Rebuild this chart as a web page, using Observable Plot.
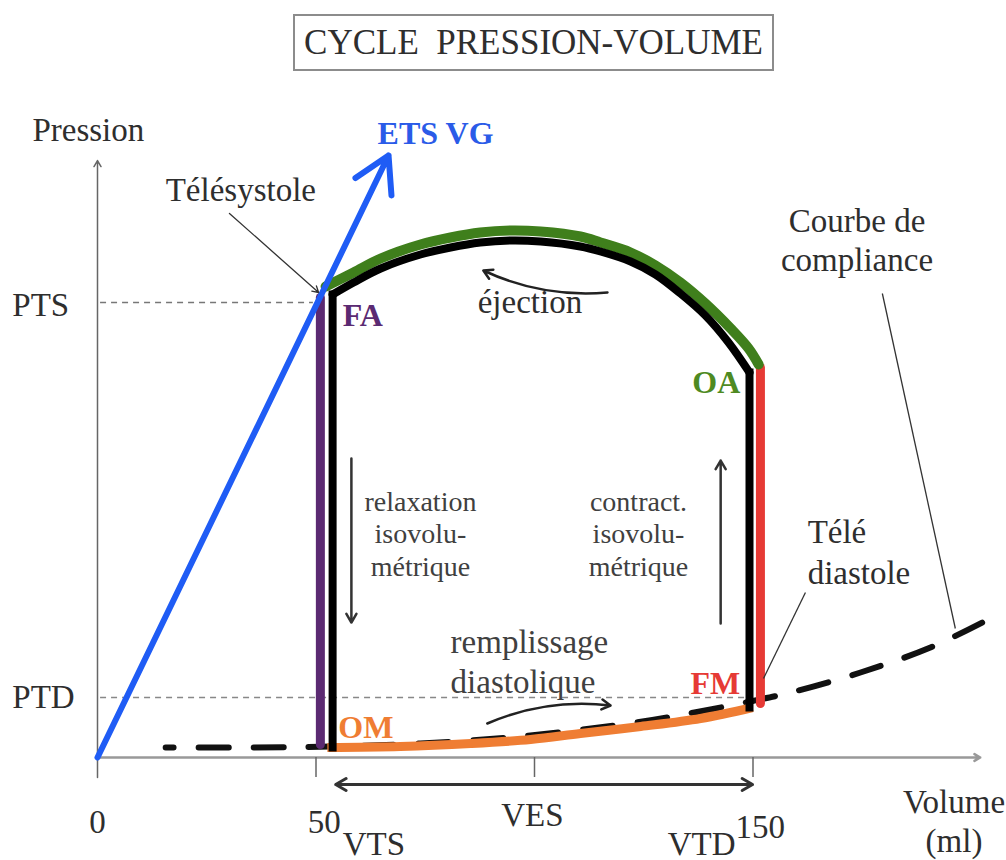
<!DOCTYPE html>
<html><head><meta charset="utf-8">
<script src="https://cdn.jsdelivr.net/npm/d3@7"></script>
<script src="https://cdn.jsdelivr.net/npm/@observablehq/plot@0.6"></script>
<style>
body{margin:0;background:#fff;}
#wrap{position:relative;width:1006px;height:860px;background:#fff;}
#title{position:absolute;left:293px;top:14px;width:481px;height:57px;box-sizing:border-box;border:2px solid #8c8c8c;font-family:"Liberation Serif","Times New Roman","DejaVu Serif","Noto Serif",serif;font-size:35px;color:#2e2e2e;text-align:center;line-height:53px;white-space:pre;}
#chart{position:absolute;left:0;top:80px;}
</style></head><body>
<div id="wrap"><div id="title"></div><div id="chart"></div></div>
<script>
// ---- data (volume in ml, pressure in arbitrary units) ----
const titleText = "CYCLE  PRESSION-VOLUME";
const xTicks = [50, 100, 150];
const PTS = 91, PTD = 12;

const etsLine = [{v1: 0, p1: 0, v2: 66.6, p2: 120.4}];

const blackLeft = [{v: 53.8, p: 2.0}, {v: 53.8, p: 92.6}];
const blackRight = [{v: 149.2, p: 77.0}, {v: 149.2, p: 10.0}];
const ejectionBlack = [
  {v: 53.8, p: 92.6}, {v: 58.6, p: 95.0}, {v: 64.8, p: 97.8}, {v: 73.9, p: 100.6},
  {v: 80.8, p: 102.0}, {v: 87.6, p: 103.0}, {v: 94.5, p: 103.4}, {v: 101.4, p: 103.2},
  {v: 110.5, p: 102.2}, {v: 115.1, p: 101.2}, {v: 122.0, p: 99.2}, {v: 127.7, p: 96.6},
  {v: 133.4, p: 92.8}, {v: 139.1, p: 88.4}, {v: 144.4, p: 83.0}, {v: 149.2, p: 77.0}
];
const ejectionGreen = [
  {v: 52.2, p: 94.2}, {v: 58.6, p: 97.0}, {v: 64.8, p: 99.8}, {v: 73.9, p: 102.6},
  {v: 80.8, p: 104.0}, {v: 87.6, p: 105.0}, {v: 94.5, p: 105.4}, {v: 101.4, p: 105.2},
  {v: 110.5, p: 104.2}, {v: 115.1, p: 103.0}, {v: 122.0, p: 101.0}, {v: 127.7, p: 98.4},
  {v: 133.4, p: 95.0}, {v: 139.1, p: 90.8}, {v: 144.9, p: 85.8}, {v: 149.0, p: 81.8},
  {v: 151.3, p: 78.6}
];
const purpleFA = [{v: 51.0, p: 2.6}, {v: 51.0, p: 92.0}];
const redFM = [{v: 151.7, p: 10.8}, {v: 151.7, p: 78.0}];
const fillingOrange = [
  {v: 52.6, p: 2.0}, {v: 69.3, p: 2.2}, {v: 85.4, p: 2.8}, {v: 99.1, p: 3.6},
  {v: 110.5, p: 4.8}, {v: 124.3, p: 6.2}, {v: 138.0, p: 7.8}, {v: 149.9, p: 10.0}
];
const compliance = [
  {v: 15.6, p: 2.0}, {v: 35.0, p: 2.0}, {v: 53.3, p: 2.2}, {v: 73.9, p: 2.8},
  {v: 96.8, p: 4.2}, {v: 123.3, p: 7.0}, {v: 136.6, p: 9.0}, {v: 149.9, p: 11.3},
  {v: 158.6, p: 13.0}, {v: 174.6, p: 17.0}, {v: 190.6, p: 22.0}, {v: 202.5, p: 27.0}
];

const yAxisArrow = [{v1: 0, p1: -4, v2: 0, p2: 119.4}];
const xAxisArrow = [{v1: 0, p1: 0, v2: 202, p2: 0}];
const smallArrows = [
  {v1: 58.1, p1: 59.8, v2: 58.1, p2: 27.0},
  {v1: 142.6, p1: 26.8, v2: 142.6, p2: 59.4}
];
const curvedArrows = [
  {v1: 116.7, p1: 93.0, v2: 88.3, p2: 97.4},
  {v1: 89.2, p1: 6.8, v2: 117.4, p2: 10.4}
];
const vesArrows = [
  {v1: 99.5, p1: -5.4, v2: 54.5, p2: -5.4},
  {v1: 99.5, p1: -5.4, v2: 149.9, p2: -5.4}
];
const teleSystoleLeader = [{v1: 30.2, p1: 108.8, v2: 50.6, p2: 93.0}];
const leaders = [
  {v1: 179.6, p1: 92.8, v2: 196.3, p2: 25.8},
  {v1: 162.0, p1: 33.0, v2: 152.4, p2: 15.8}
];

const labelsStart = [
  {v: -14.9, p: 123.4, t: "Pression"},
  {v: 15.6, p: 111.4, t: "Télésystole"},
  {v: -19.5, p: 88.4, t: "PTS"},
  {v: -19.5, p: 10.0, t: "PTD"},
  {v: 87.0, p: 89.0, t: "éjection"},
  {v: 56.1, p: -19.4, t: "VTS"},
  {v: 146.0, p: -16.0, t: "150"}
];
const labelsMiddle = [
  {v: 173.8, p: 97.4, t: "Courbe de\ncompliance"},
  {v: 0, p: -15.0, t: "0"},
  {v: 51.9, p: -15.0, t: "50"},
  {v: 99.5, p: -13.6, t: "VES"},
  {v: 196.0, p: -18.8, t: "Volume\n(ml)"}
];
const labelsEnd = [{v: 146.0, p: -19.4, t: "VTD"}];
const teleDiastole = [{v: 162.5, p: 34.8, t: "Télé\ndiastole"}];
const remplissage = [{v: 80.8, p: 13.0, t: "remplissage\ndiastolique"}];
const isoLabels = [
  {v: 73.9, p: 36.4, t: "relaxation\nisovolu-\nmétrique"},
  {v: 123.8, p: 36.4, t: "contract.\nisovolu-\nmétrique"}
];
const pointLabelsStart = [
  {v: 56.1, p: 86.4, t: "FA", c: "#5b2a72"},
  {v: 55.1, p: 4.0, t: "OM", c: "#ef7d33"}
];
const pointLabelsEnd = [
  {v: 147.1, p: 73.0, t: "OA", c: "#4e8a22"},
  {v: 147.1, p: 12.8, t: "FM", c: "#e63a35"}
];
const etsLabel = [{v: 64.1, p: 122.8, t: "ETS VG"}];

// ---- drawing ----
document.getElementById("title").textContent = titleText;
const serif = "'Liberation Serif', 'Times New Roman', 'DejaVu Serif', 'Noto Serif', serif";
const ink = "#2e2e2e";

const chart = Plot.plot({
  width: 1006, height: 780, margin: 0,
  x: {domain: [0, 200], range: [97, 971], axis: null},
  y: {domain: [0, 120], range: [677, 77], axis: null},
  style: {background: "white", fontFamily: serif},
  marks: [
    // reference dashed lines
    Plot.ruleY([PTS], {x1: 0.7, x2: 49.4, stroke: "#777", strokeWidth: 1.5, strokeDasharray: "6,5"}),
    Plot.ruleY([PTD], {x1: 0.7, x2: 150, stroke: "#888", strokeWidth: 1.5, strokeDasharray: "6,5"}),
    // axes
    Plot.arrow(xAxisArrow, {x1: "v1", y1: "p1", x2: "v2", y2: "p2", stroke: "#999", strokeWidth: 2.5, headLength: 4}),
    Plot.arrow(yAxisArrow, {x1: "v1", y1: "p1", x2: "v2", y2: "p2", stroke: "#666", strokeWidth: 1.5, headLength: 7}),
    Plot.ruleX(xTicks, {y1: 0, y2: -4, stroke: "#666", strokeWidth: 1.5}),
    // compliance curve
    Plot.line(compliance, {x: "v", y: "p", stroke: "#111", strokeWidth: 6, strokeDasharray: "30,25", strokeDashoffset: 22, curve: "catmull-rom"}),
    // loop
    Plot.line(fillingOrange, {x: "v", y: "p", stroke: "#ef7d33", strokeWidth: 9, curve: "catmull-rom", strokeLinecap: "butt"}),
    Plot.line(purpleFA, {x: "v", y: "p", stroke: "#5b2a72", strokeWidth: 9}),
    Plot.line(redFM, {x: "v", y: "p", stroke: "#e63a35", strokeWidth: 9}),
    Plot.line(ejectionGreen, {x: "v", y: "p", stroke: "#3f7f1c", strokeWidth: 10, curve: "catmull-rom"}),
    Plot.line(ejectionBlack, {x: "v", y: "p", stroke: "#000", strokeWidth: 8, curve: "catmull-rom"}),
    Plot.line(blackLeft, {x: "v", y: "p", stroke: "#000", strokeWidth: 8, strokeLinecap: "square"}),
    Plot.line(blackRight, {x: "v", y: "p", stroke: "#000", strokeWidth: 8, strokeLinecap: "square"}),
    // ETS line
    Plot.arrow(etsLine, {x1: "v1", y1: "p1", x2: "v2", y2: "p2", stroke: "#1f5cf5", strokeWidth: 6, headLength: 10}),
    // annotation arrows
    Plot.arrow(smallArrows, {x1: "v1", y1: "p1", x2: "v2", y2: "p2", stroke: "#333", strokeWidth: 2.5, headLength: 6}),
    Plot.arrow(curvedArrows, {x1: "v1", y1: "p1", x2: "v2", y2: "p2", stroke: "#222", strokeWidth: 2.5, headLength: 6, bend: 15}),
    Plot.arrow(vesArrows, {x1: "v1", y1: "p1", x2: "v2", y2: "p2", stroke: "#333", strokeWidth: 3, headLength: 6}),
    Plot.arrow(teleSystoleLeader, {x1: "v1", y1: "p1", x2: "v2", y2: "p2", stroke: "#333", strokeWidth: 1.3, headLength: 8}),
    Plot.link(leaders, {x1: "v1", y1: "p1", x2: "v2", y2: "p2", stroke: "#333", strokeWidth: 1.3}),
    // texts
    Plot.text(labelsStart, {x: "v", y: "p", text: "t", textAnchor: "start", lineAnchor: "bottom", fontFamily: serif, fontSize: 33, fill: ink}),
    Plot.text(labelsMiddle, {x: "v", y: "p", text: "t", textAnchor: "middle", lineAnchor: "bottom", fontFamily: serif, fontSize: 33, fill: ink, lineHeight: 1.17}),
    Plot.text(labelsEnd, {x: "v", y: "p", text: "t", textAnchor: "end", lineAnchor: "bottom", fontFamily: serif, fontSize: 33, fill: ink}),
    Plot.text(teleDiastole, {x: "v", y: "p", text: "t", textAnchor: "start", lineAnchor: "bottom", fontFamily: serif, fontSize: 33, fill: ink, lineHeight: 1.24}),
    Plot.text(remplissage, {x: "v", y: "p", text: "t", textAnchor: "start", lineAnchor: "bottom", fontFamily: serif, fontSize: 33, fill: "#404040", lineHeight: 1.21}),
    Plot.text(isoLabels, {x: "v", y: "p", text: "t", textAnchor: "middle", lineAnchor: "bottom", fontFamily: serif, fontSize: 28, fill: "#404040", lineHeight: 1.16}),
    Plot.text(pointLabelsStart, {x: "v", y: "p", text: "t", textAnchor: "start", lineAnchor: "bottom", fontFamily: serif, fontSize: 32, fontWeight: "bold", fill: d => d.c}),
    Plot.text(pointLabelsEnd, {x: "v", y: "p", text: "t", textAnchor: "end", lineAnchor: "bottom", fontFamily: serif, fontSize: 32, fontWeight: "bold", fill: d => d.c}),
    Plot.text(etsLabel, {x: "v", y: "p", text: "t", textAnchor: "start", lineAnchor: "bottom", fontFamily: serif, fontSize: 32, fontWeight: "bold", fill: "#2a5be8"})
  ]
});
document.getElementById("chart").appendChild(chart);
</script>
</body></html>
